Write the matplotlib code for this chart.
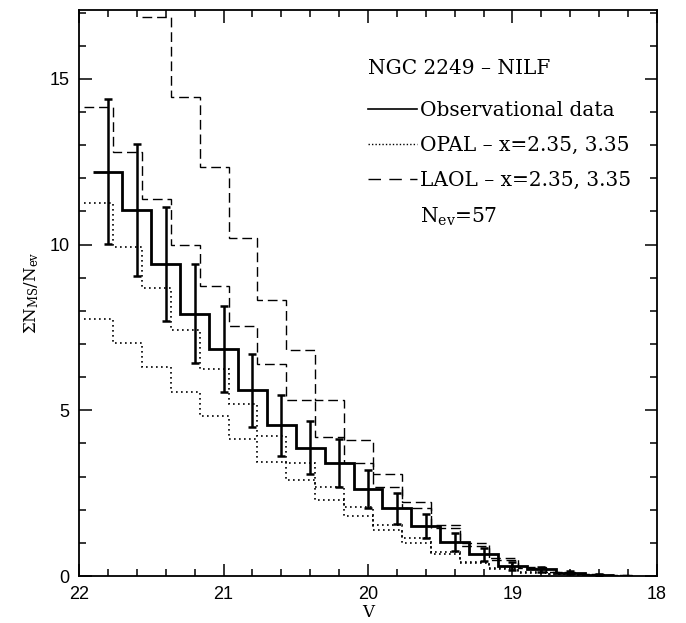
import numpy as np
import matplotlib
matplotlib.use("Agg")
import matplotlib.pyplot as plt
from matplotlib.ticker import MultipleLocator
from matplotlib.lines import Line2D

# DATA
# Observational counts, 0.2 mag bins, centres in V
v_centers = [21.8, 21.6, 21.4, 21.2, 21.0, 20.8, 20.6, 20.4, 20.2,
             20.0, 19.8, 19.6, 19.4, 19.2, 19.0, 18.8, 18.6, 18.4]
obs = [12.2, 11.05, 9.42, 7.91, 6.84, 5.60, 4.55, 3.87, 3.41,
       2.62, 2.04, 1.51, 1.03, 0.66, 0.31, 0.20, 0.10, 0.04]
obs_err = [2.18, 2.0, 1.72, 1.49, 1.3, 1.1, 0.92, 0.8, 0.73,
           0.57, 0.48, 0.37, 0.28, 0.2, 0.12, 0.08, 0.05, 0.03]

# Model counts (bin edges sit slightly offset from the observed ones)
model_start = 21.965
laol_hi = [np.nan, np.nan, 16.88, 14.46, 12.33, 10.2, 8.33, 6.81, 5.3, 4.1,
           3.09, 2.24, 1.54, 1.0, 0.55, 0.28, 0.13, 0.06, 0.02]
laol_lo = [14.14, 12.8, 11.39, 9.99, 8.74, 7.53, 6.41, 5.32, 4.2, 3.4,
           2.7, 2.05, 1.45, 0.9, 0.48, 0.24, 0.11, 0.05, 0.02]
opal_hi = [11.26, 9.92, 8.68, 7.41, 6.26, 5.18, 4.23, 3.41, 2.69, 2.09,
           1.55, 1.14, 0.73, 0.43, 0.23, 0.12, 0.06, 0.03, 0.01]
opal_lo = [7.76, 7.04, 6.3, 5.55, 4.83, 4.13, 3.45, 2.89, 2.29, 1.81,
           1.4, 1.0, 0.66, 0.38, 0.2, 0.1, 0.05, 0.02, 0.01]

bin_width = 0.2

plt.rcParams["mathtext.fontset"] = "dejavuserif"

fig = plt.figure(figsize=(6.86, 6.23), dpi=100)
ax = fig.add_axes([0.1152, 0.0754, 0.8425, 0.9086])


def draw_model(vals, style, lw):
    vals = np.asarray(vals, dtype=float)
    edges = model_start - bin_width * np.arange(len(vals) + 1)
    ok = np.where(np.isfinite(vals))[0]
    first = ok[0]
    ax.stairs(vals[first:], edges[first:], baseline=None,
              color="black", linestyle=style, linewidth=lw)


dash = (0, (7, 3.5))
draw_model(laol_hi, dash, 1.0)
draw_model(laol_lo, dash, 1.0)
draw_model(opal_hi, (0, (1, 2)), 1.2)
draw_model(opal_lo, (0, (1, 2)), 1.2)

# observed histogram
centers = np.asarray(v_centers)
obs_edges = np.append(centers + bin_width / 2, centers[-1] - bin_width / 2)
ax.stairs(obs, obs_edges, baseline=None, color="black", linewidth=2.0)
ax.errorbar(centers, obs, yerr=obs_err, fmt="none", ecolor="black",
            elinewidth=1.8, capsize=3.2, capthick=1.8)

# AXES
ax.set_xlim(22, 18)
ax.set_ylim(0, 17.08)
ax.xaxis.set_major_locator(MultipleLocator(1))
ax.xaxis.set_minor_locator(MultipleLocator(0.2))
ax.yaxis.set_major_locator(MultipleLocator(5))
ax.yaxis.set_minor_locator(MultipleLocator(1))
ax.tick_params(which="both", direction="in", top=True, right=True, width=1.1)
ax.tick_params(which="major", length=9, labelsize=13, pad=7)
ax.tick_params(which="minor", length=5)
for lab in ax.get_xticklabels() + ax.get_yticklabels():
    lab.set_family("Liberation Sans")
for sp in ax.spines.values():
    sp.set_linewidth(1.3)

ax.set_xlabel("V", family="DejaVu Serif", fontsize=12, labelpad=1)
ax.set_ylabel(r"$\Sigma$N$_{\rm MS}$/N$_{\rm ev}$", family="DejaVu Serif",
              fontsize=12, labelpad=6)

# LEGEND
handles = [
    Line2D([], [], color="black", linewidth=1.2),
    Line2D([], [], color="black", linewidth=1.0, linestyle=(0, (1, 1.5))),
    Line2D([], [], color="black", linewidth=1.0, linestyle=(0, (9, 6))),
    Line2D([], [], color="none"),
]
labels = [
    "Observational data",
    "OPAL \u2013 x=2.35, 3.35",
    "LAOL \u2013 x=2.35, 3.35",
    r"N$_{\rm ev}$=57",
]
leg = ax.legend(handles, labels, title="NGC 2249 \u2013 NILF",
                loc="upper left", bbox_to_anchor=(0.4865, 0.927),
                frameon=False, handlelength=2.4, handletextpad=0.15,
                labelspacing=0.8, borderaxespad=0,
                prop={"family": "DejaVu Serif", "size": 14.5},
                title_fontproperties={"family": "DejaVu Serif", "size": 14.5},
                alignment="left")
leg._legend_box.sep = 16

fig.savefig("out.png", dpi=100)
